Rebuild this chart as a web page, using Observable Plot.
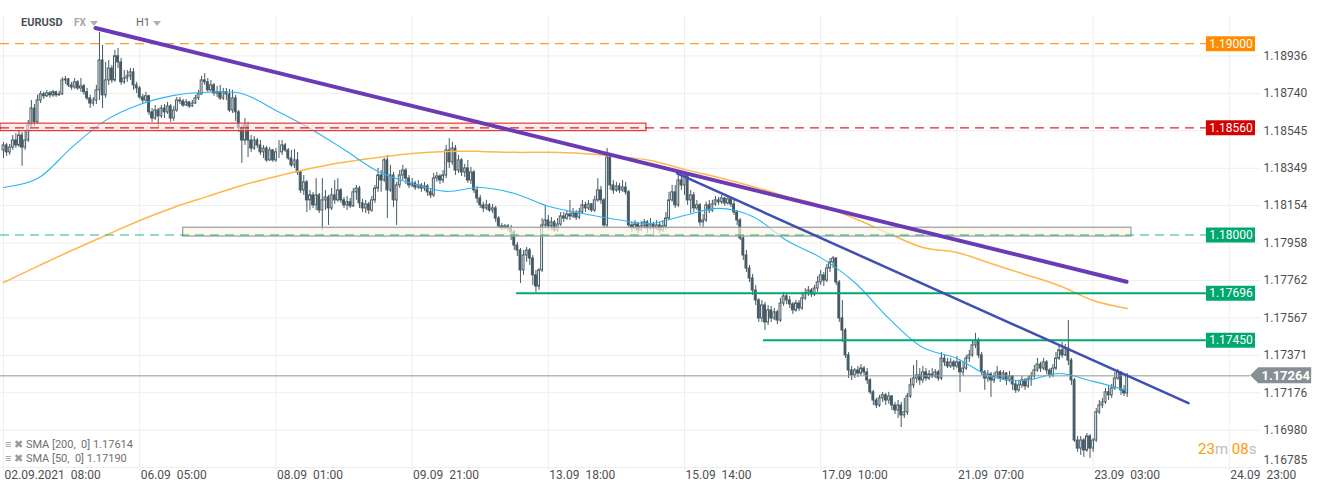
<!DOCTYPE html>
<html><head><meta charset="utf-8">
<script src="https://cdn.jsdelivr.net/npm/d3@7"></script>
<script src="https://cdn.jsdelivr.net/npm/@observablehq/plot@0.6"></script>
<style>
body{margin:0;background:#fff;}
#wrap{position:relative;width:1323px;height:493px;overflow:hidden;font-family:Roboto,sans-serif;background:#fff;}
#chart{position:absolute;left:0;top:0;}
.ov{position:absolute;white-space:pre;}
.tri{position:absolute;width:0;height:0;border-left:4px solid transparent;border-right:4px solid transparent;border-top:5px solid #b0b0b0;}
</style></head><body>
<div id="wrap">
<div id="chart"></div>
<div class="ov" style="left:21px;top:16px;font-size:11px;font-weight:bold;color:#4a5358;">EURUSD</div>
<div class="ov" style="left:74px;top:17px;font-size:10px;font-weight:bold;color:#a5a5a5;">FX</div>
<div class="tri" style="left:90px;top:21px;"></div>
<div class="ov" style="left:136px;top:16px;font-size:11px;color:#666;">H1</div>
<div class="tri" style="left:153px;top:21px;"></div>
<div class="ov" style="left:5px;top:438px;font-size:11px;color:#707070;"><span style="color:#9a9a9a">≡ ✖</span> SMA [200,  0] 1.17614</div>
<div class="ov" style="left:5px;top:452px;font-size:11px;color:#707070;"><span style="color:#9a9a9a">≡ ✖</span> SMA [50,  0] 1.17190</div>
<div class="ov" style="left:1198px;top:440px;font-size:15px;"><span style="color:#ff9800">23</span><span style="color:#bdbdbd">m </span><span style="color:#ff9800">08</span><span style="color:#bdbdbd">s</span></div>
</div>
<script>
// ---------- DATA ----------
const xTickIdx = [0, 44, 88, 132, 176, 220, 264, 308, 352, 396];
const xTickLabels = ["02.09.2021  08:00","06.09  05:00","08.09  01:00","09.09  21:00","13.09  18:00","15.09  14:00","17.09  10:00","21.09  07:00","23.09  03:00","24.09  23:00"];
const yTicks = [1.18936,1.18740,1.18545,1.18349,1.18154,1.17958,1.17762,1.17567,1.17371,1.17176,1.16980,1.16785];

const firstOpen = 1.18442;
const closes = [
1.18468,1.18432,1.18457,1.18494,1.18468,1.18520,1.18457,1.18494,1.18573,1.18661,
1.18589,1.18703,1.18735,1.18725,1.18740,1.18730,1.18746,1.18730,1.18735,1.18808,
1.18813,1.18782,1.18771,1.18798,1.18766,1.18777,1.18746,1.18714,1.18687,1.18703,
1.18756,1.18912,1.18730,1.18808,1.18870,1.18808,1.18934,1.18902,1.18798,1.18818,
1.18829,1.18850,1.18782,1.18766,1.18719,1.18703,1.18725,1.18641,1.18609,1.18651,
1.18620,1.18661,1.18641,1.18672,1.18609,1.18651,1.18703,1.18698,1.18677,1.18693,
1.18672,1.18687,1.18714,1.18735,1.18808,1.18798,1.18756,1.18782,1.18740,1.18746,
1.18714,1.18746,1.18735,1.18651,1.18714,1.18641,1.18557,1.18494,1.18573,1.18494,
1.18452,1.18494,1.18468,1.18432,1.18452,1.18390,1.18442,1.18390,1.18432,1.18432,
1.18468,1.18442,1.18400,1.18364,1.18390,1.18327,1.18233,1.18275,1.18181,1.18207,
1.18155,1.18207,1.18128,1.18181,1.18196,1.18139,1.18207,1.18181,1.18233,1.18181,
1.18155,1.18171,1.18150,1.18223,1.18243,1.18165,1.18139,1.18160,1.18128,1.18181,
1.18243,1.18311,1.18285,1.18390,1.18233,1.18311,1.18181,1.18259,1.18311,1.18337,
1.18295,1.18259,1.18269,1.18248,1.18259,1.18243,1.18254,1.18223,1.18207,1.18295,
1.18306,1.18285,1.18311,1.18442,1.18380,1.18452,1.18337,1.18390,1.18327,1.18348,
1.18285,1.18327,1.18233,1.18191,1.18155,1.18139,1.18155,1.18128,1.18139,1.18086,
1.18045,1.18034,1.18045,1.18034,1.18014,1.17945,1.17919,1.17815,1.17893,1.17919,
1.17877,1.17789,1.17731,1.17815,1.18050,1.18076,1.18045,1.18066,1.18024,1.18055,
1.18097,1.18086,1.18107,1.18097,1.18112,1.18091,1.18118,1.18155,1.18139,1.18160,
1.18128,1.18181,1.18233,1.18181,1.18050,1.18405,1.18259,1.18233,1.18254,1.18233,
1.18248,1.18223,1.18050,1.18034,1.18055,1.18024,1.18045,1.18066,1.18034,1.18055,
1.18034,1.18050,1.18024,1.18045,1.18086,1.18181,1.18223,1.18155,1.18285,1.18259,
1.18311,1.18181,1.18207,1.18139,1.18155,1.18066,1.18076,1.18155,1.18128,1.18160,
1.18181,1.18171,1.18191,1.18165,1.18186,1.18160,1.18118,1.18076,1.17982,1.17893,
1.17825,1.17773,1.17710,1.17658,1.17564,1.17632,1.17543,1.17606,1.17564,1.17596,
1.17553,1.17642,1.17679,1.17658,1.17637,1.17606,1.17642,1.17616,1.17668,1.17694,
1.17710,1.17689,1.17720,1.17752,1.17789,1.17762,1.17825,1.17857,1.17877,1.17752,
1.17564,1.17501,1.17371,1.17292,1.17266,1.17292,1.17276,1.17302,1.17282,1.17240,
1.17178,1.17135,1.17109,1.17146,1.17162,1.17135,1.17156,1.17109,1.17083,1.17109,
1.17057,1.17073,1.17156,1.17214,1.17250,1.17266,1.17240,1.17282,1.17250,1.17271,
1.17261,1.17282,1.17250,1.17354,1.17334,1.17313,1.17334,1.17313,1.17334,1.17282,
1.17302,1.17354,1.17371,1.17423,1.17449,1.17371,1.17282,1.17250,1.17271,1.17240,
1.17261,1.17282,1.17250,1.17276,1.17240,1.17261,1.17219,1.17188,1.17214,1.17240,
1.17209,1.17245,1.17261,1.17292,1.17323,1.17302,1.17334,1.17292,1.17266,1.17302,
1.17354,1.17397,1.17371,1.17407,1.17344,1.17240,1.16926,1.16884,1.16926,1.16874,
1.16947,1.16884,1.16926,1.17073,1.17109,1.17125,1.17178,1.17162,1.17198,1.17250,
1.17282,1.17188,1.17172,1.17264];

const highs = [
1.18484,1.18478,1.18473,1.18520,1.18530,1.18546,1.18536,1.18546,1.18599,1.18703,
1.18682,1.18730,1.18751,1.18746,1.18756,1.18751,1.18756,1.18751,1.18751,1.18823,
1.18829,1.18818,1.18798,1.18818,1.18808,1.18818,1.18787,1.18766,1.18730,1.18719,
1.18782,1.19059,1.18991,1.18902,1.18912,1.18886,1.18965,1.18975,1.18923,1.18860,
1.18860,1.18870,1.18870,1.18798,1.18777,1.18735,1.18746,1.18730,1.18661,1.18677,
1.18661,1.18677,1.18682,1.18693,1.18682,1.18672,1.18719,1.18719,1.18709,1.18709,
1.18698,1.18703,1.18730,1.18756,1.18829,1.18844,1.18818,1.18808,1.18792,1.18777,
1.18782,1.18766,1.18766,1.18761,1.18756,1.18730,1.18651,1.18573,1.18609,1.18589,
1.18520,1.18515,1.18504,1.18494,1.18468,1.18463,1.18457,1.18447,1.18452,1.18494,
1.18494,1.18478,1.18452,1.18442,1.18447,1.18432,1.18337,1.18311,1.18285,1.18233,
1.18223,1.18295,1.18217,1.18295,1.18233,1.18207,1.18243,1.18285,1.18295,1.18243,
1.18196,1.18202,1.18191,1.18243,1.18259,1.18254,1.18186,1.18181,1.18171,1.18202,
1.18259,1.18348,1.18337,1.18400,1.18416,1.18364,1.18327,1.18275,1.18337,1.18364,
1.18348,1.18311,1.18295,1.18280,1.18285,1.18269,1.18275,1.18264,1.18243,1.18322,
1.18327,1.18316,1.18337,1.18468,1.18504,1.18484,1.18468,1.18416,1.18400,1.18369,
1.18390,1.18353,1.18337,1.18254,1.18207,1.18171,1.18181,1.18165,1.18160,1.18150,
1.18097,1.18060,1.18055,1.18055,1.18050,1.18024,1.17961,1.17930,1.17919,1.17935,
1.17930,1.17893,1.17815,1.17825,1.18086,1.18155,1.18102,1.18091,1.18076,1.18086,
1.18118,1.18118,1.18128,1.18181,1.18139,1.18128,1.18139,1.18181,1.18171,1.18181,
1.18165,1.18202,1.18295,1.18254,1.18191,1.18452,1.18416,1.18285,1.18275,1.18269,
1.18285,1.18275,1.18233,1.18066,1.18076,1.18066,1.18071,1.18081,1.18076,1.18086,
1.18066,1.18076,1.18066,1.18076,1.18118,1.18223,1.18259,1.18259,1.18311,1.18327,
1.18327,1.18316,1.18233,1.18223,1.18181,1.18165,1.18107,1.18171,1.18181,1.18181,
1.18202,1.18196,1.18207,1.18196,1.18202,1.18191,1.18181,1.18128,1.18086,1.17998,
1.17919,1.17841,1.17794,1.17736,1.17668,1.17658,1.17648,1.17632,1.17627,1.17616,
1.17606,1.17668,1.17700,1.17689,1.17679,1.17648,1.17658,1.17658,1.17700,1.17720,
1.17731,1.17720,1.17736,1.17783,1.17815,1.17804,1.17846,1.17877,1.17888,1.17882,
1.17762,1.17658,1.17511,1.17386,1.17313,1.17302,1.17313,1.17323,1.17313,1.17302,
1.17250,1.17188,1.17146,1.17162,1.17178,1.17172,1.17178,1.17162,1.17125,1.17135,
1.17125,1.17146,1.17172,1.17250,1.17318,1.17344,1.17302,1.17313,1.17302,1.17292,
1.17302,1.17297,1.17292,1.17386,1.17371,1.17355,1.17355,1.17344,1.17365,1.17344,
1.17334,1.17371,1.17397,1.17449,1.17486,1.17460,1.17386,1.17292,1.17292,1.17282,
1.17282,1.17313,1.17292,1.17292,1.17282,1.17287,1.17266,1.17240,1.17240,1.17261,
1.17250,1.17261,1.17282,1.17318,1.17355,1.17334,1.17355,1.17344,1.17302,1.17323,
1.17386,1.17423,1.17439,1.17428,1.17553,1.17355,1.17250,1.16947,1.16947,1.16936,
1.16962,1.16957,1.16936,1.17093,1.17135,1.17146,1.17198,1.17209,1.17219,1.17282,
1.17297,1.17282,1.17214,1.17276];

const lows = [
1.18400,1.18411,1.18416,1.18442,1.18452,1.18457,1.18359,1.18442,1.18484,1.18562,
1.18567,1.18578,1.18687,1.18709,1.18719,1.18714,1.18719,1.18719,1.18725,1.18730,
1.18787,1.18771,1.18756,1.18761,1.18756,1.18746,1.18730,1.18703,1.18661,1.18672,
1.18682,1.18703,1.18661,1.18714,1.18782,1.18792,1.18798,1.18870,1.18782,1.18787,
1.18798,1.18808,1.18756,1.18740,1.18709,1.18682,1.18693,1.18625,1.18589,1.18599,
1.18562,1.18609,1.18609,1.18630,1.18589,1.18594,1.18641,1.18682,1.18667,1.18672,
1.18661,1.18667,1.18682,1.18703,1.18730,1.18782,1.18746,1.18746,1.18725,1.18719,
1.18703,1.18703,1.18703,1.18641,1.18635,1.18594,1.18536,1.18374,1.18468,1.18405,
1.18432,1.18442,1.18452,1.18416,1.18400,1.18380,1.18385,1.18380,1.18380,1.18400,
1.18416,1.18432,1.18390,1.18353,1.18348,1.18311,1.18217,1.18207,1.18118,1.18128,
1.18139,1.18128,1.18112,1.18024,1.18128,1.18050,1.18128,1.18160,1.18171,1.18165,
1.18139,1.18128,1.18139,1.18144,1.18181,1.18139,1.18118,1.18112,1.18107,1.18118,
1.18165,1.18223,1.18223,1.18275,1.18086,1.18223,1.18144,1.18050,1.18243,1.18285,
1.18264,1.18243,1.18248,1.18233,1.18238,1.18223,1.18228,1.18202,1.18191,1.18196,
1.18275,1.18264,1.18269,1.18295,1.18348,1.18364,1.18311,1.18322,1.18306,1.18301,
1.18269,1.18264,1.18217,1.18165,1.18139,1.18118,1.18128,1.18118,1.18112,1.18066,
1.18034,1.18024,1.18029,1.18019,1.17971,1.17919,1.17888,1.17747,1.17789,1.17857,
1.17841,1.17736,1.17700,1.17710,1.17804,1.18034,1.18024,1.18024,1.18014,1.18014,
1.18045,1.18066,1.18076,1.18076,1.18086,1.18076,1.18081,1.18107,1.18118,1.18128,
1.18118,1.18118,1.18171,1.18160,1.18034,1.18034,1.18233,1.18212,1.18223,1.18217,
1.18223,1.18207,1.18034,1.18014,1.18024,1.18008,1.18019,1.18029,1.18008,1.18024,
1.18003,1.18024,1.18008,1.18014,1.18024,1.18076,1.18171,1.18139,1.18144,1.18233,
1.18207,1.18155,1.18112,1.18118,1.18128,1.18045,1.18040,1.18066,1.18112,1.18118,
1.18150,1.18155,1.18160,1.18150,1.18155,1.18144,1.18102,1.18050,1.17971,1.17867,
1.17804,1.17752,1.17684,1.17632,1.17543,1.17543,1.17501,1.17527,1.17543,1.17553,
1.17532,1.17543,1.17627,1.17637,1.17616,1.17585,1.17596,1.17601,1.17606,1.17658,
1.17679,1.17674,1.17679,1.17700,1.17736,1.17731,1.17752,1.17804,1.17825,1.17736,
1.17543,1.17439,1.17355,1.17250,1.17240,1.17250,1.17255,1.17261,1.17261,1.17219,
1.17167,1.17109,1.17093,1.17099,1.17125,1.17109,1.17115,1.17083,1.17062,1.17041,
1.16994,1.17041,1.17057,1.17146,1.17198,1.17224,1.17214,1.17224,1.17235,1.17240,
1.17250,1.17250,1.17235,1.17240,1.17313,1.17302,1.17302,1.17292,1.17302,1.17178,
1.17261,1.17292,1.17334,1.17360,1.17407,1.17355,1.17266,1.17188,1.17230,1.17151,
1.17224,1.17250,1.17230,1.17240,1.17214,1.17230,1.17188,1.17172,1.17178,1.17198,
1.17188,1.17198,1.17209,1.17245,1.17282,1.17282,1.17292,1.17271,1.17250,1.17255,
1.17292,1.17344,1.17355,1.17365,1.17318,1.17214,1.16916,1.16864,1.16848,1.16838,
1.16864,1.16832,1.16864,1.16916,1.17062,1.17093,1.17115,1.17135,1.17146,1.17188,
1.17240,1.17162,1.17156,1.17151];

// SMA values sampled every 11 candles (candle 0, 11, ... 363)
const smaStep = 11;
const sma50 = [1.18248,1.18295,1.18457,1.18599,1.18682,1.18730,1.18746,1.18740,1.18651,1.18557,
1.18447,1.18332,1.18269,1.18228,1.18248,1.18217,1.18150,1.18112,1.18081,1.18060,
1.18102,1.18139,1.18097,1.17971,1.17882,1.17752,1.17564,1.17412,1.17355,1.17261,
1.17240,1.17276,1.17235,1.17188];
const sma200 = [1.17752,1.17836,1.17919,1.17998,1.18076,1.18144,1.18202,1.18259,1.18306,1.18348,
1.18380,1.18405,1.18426,1.18437,1.18437,1.18432,1.18432,1.18426,1.18411,1.18390,
1.18343,1.18301,1.18254,1.18202,1.18155,1.18086,1.18008,1.17935,1.17909,1.17851,
1.17794,1.17736,1.17658,1.17616];

// levels
const dashedLevels = [
  {p: 1.19000, color: "#ff8c00"},
  {p: 1.18560, color: "#d50000"},
  {p: 1.18000, color: "#00a870"}
];
const solidLevels = [
  {p: 1.17696, from: 165.7, color: "#00a870"},
  {p: 1.17450, from: 245.5, color: "#00a870"}
];
const lastPrice = 1.17264;
const redZone = {i1: -0.97, i2: 207.7, p1: 1.18582, p2: 1.18543};
const beigeZone = {i1: 58.05, i2: 364.4, p1: 1.18038, p2: 1.17992};
const trendPurple = [{i: 29.7, p: 1.19082}, {i: 362.8, p: 1.17756}];
const trendBlue = [{i: 217.6, p: 1.18322}, {i: 382.8, p: 1.17121}];

// ---------- LAYOUT ----------
const xStart = -0.97, xEnd = 406.07;
const yTop = 1.19142, yBottom = 1.16785;
const boxI1 = 388.6, boxI2 = 404.45;
const tagTip = 402.9, tagBody = 405.5, tagEnd = 422.6;
const candleColor = "#455a64";

const candles = closes.map((c, i) => {
  const o = i === 0 ? firstOpen : closes[i - 1];
  return {i, o, c, h: Math.max(highs[i], o, c), l: Math.min(lows[i], o, c), up: c >= o};
});
const sma50Pts = sma50.map((v, k) => ({i: k * smaStep, p: v}));
const sma200Pts = sma200.map((v, k) => ({i: k * smaStep, p: v}));
const labelLevels = [...dashedLevels, ...solidLevels];

const marks = [
  Plot.ruleX(xTickIdx, {x: d => d, stroke: "#eeeeee", strokeWidth: 1, insetBottom: -4}),
  Plot.ruleY(yTicks, {y: d => d, stroke: "#eeeeee", strokeWidth: 1}),
  Plot.text(xTickIdx, {x: d => d, text: (d, k) => xTickLabels[k].replace(/ /g, "\u00a0"), frameAnchor: "bottom", dy: 11, dx: 1, textAnchor: "start", fill: "#4f4f4f", fontSize: 12}),
  Plot.text(yTicks.slice(0, -1), {y: d => d, text: d => d.toFixed(5), frameAnchor: "right", dx: 3, textAnchor: "start", fill: "#4f4f4f", fontSize: 12}),
  Plot.text(yTicks.slice(-1), {y: d => d, text: d => d.toFixed(5), frameAnchor: "right", dx: 3, dy: -7, textAnchor: "start", fill: "#4f4f4f", fontSize: 12}),
  // candles
  Plot.ruleX(candles, {x: "i", y1: "l", y2: "h", stroke: candleColor, strokeWidth: 1}),
  Plot.rect(candles.filter(d => d.up), {x1: d => d.i - 0.3, x2: d => d.i + 0.3, y1: "o", y2: "c", fill: "#ffffff", stroke: candleColor, strokeWidth: 1}),
  Plot.rect(candles.filter(d => !d.up), {x1: d => d.i - 0.3, x2: d => d.i + 0.3, y1: "o", y2: "c", fill: candleColor, stroke: candleColor, strokeWidth: 1}),
  // SMAs
  Plot.line(sma200Pts, {x: "i", y: "p", stroke: "#ffb74d", strokeWidth: 1.5, curve: "catmull-rom"}),
  Plot.line(sma50Pts, {x: "i", y: "p", stroke: "#29b6f6", strokeWidth: 1.1, curve: "catmull-rom"}),
  // zones
  Plot.rect([redZone], {x1: "i1", x2: "i2", y1: "p1", y2: "p2", fill: "#fde3e3", fillOpacity: 0.6, stroke: "#e53935", strokeWidth: 1.2}),
  Plot.rect([beigeZone], {x1: "i1", x2: "i2", y1: "p1", y2: "p2", fill: "#fdf3e2", fillOpacity: 0.7, stroke: "#90a0a8", strokeWidth: 1.2}),
  // levels
  ...dashedLevels.map(d => Plot.ruleY([d], {y: "p", x1: xStart, x2: boxI1, stroke: d.color, strokeWidth: 1.2, strokeDasharray: "9,6", strokeOpacity: 0.85})),
  ...solidLevels.map(d => Plot.ruleY([d], {y: "p", x1: d.from, x2: boxI1, stroke: d.color, strokeWidth: 2})),
  Plot.ruleY([lastPrice], {y: d => d, x1: xStart, x2: tagTip, stroke: "#8d979b", strokeWidth: 1}),
  // trend lines
  Plot.line(trendPurple, {x: "i", y: "p", stroke: "#6a3bb5", strokeWidth: 4, strokeLinecap: "round"}),
  Plot.line(trendBlue, {x: "i", y: "p", stroke: "#3f4fb3", strokeWidth: 2.5, strokeLinecap: "round"}),
  // label boxes
  ...labelLevels.map(d => Plot.ruleY([d], {y: "p", x1: boxI1, x2: boxI2, stroke: d.color, strokeWidth: 15})),
  Plot.text(labelLevels, {x: (boxI1 + boxI2) / 2, y: "p", text: d => d.p.toFixed(5), fill: "#ffffff", fontSize: 12}),
  // current price tag
  (index, scales) => {
    const y = scales.y(lastPrice), x0 = scales.x(tagTip), x1 = scales.x(tagBody), x2 = scales.x(tagEnd);
    const g = d3.create("svg:g");
    g.append("path").attr("d", `M${x0},${y}L${x1},${y - 8}L${x2},${y - 8}L${x2},${y + 8}L${x1},${y + 8}Z`).attr("fill", "#858f94");
    g.append("text").attr("x", (x1 + x2) / 2 + 1).attr("y", y).attr("dy", "0.35em").attr("text-anchor", "middle")
      .attr("fill", "#fff").attr("font-weight", "bold").attr("font-size", 13).text(lastPrice.toFixed(5));
    return g.node();
  }
];

const chart = Plot.plot({
  width: 1323, height: 493,
  marginLeft: 0, marginRight: 63, marginTop: 16, marginBottom: 26,
  x: {type: "linear", domain: [xStart, xEnd], axis: null},
  y: {type: "linear", domain: [yBottom, yTop], axis: null},
  style: {background: "#fff", fontFamily: "Roboto, sans-serif", fontSize: "12px", overflow: "visible"},
  marks
});
document.getElementById("chart").appendChild(chart);
</script>
</body></html>
